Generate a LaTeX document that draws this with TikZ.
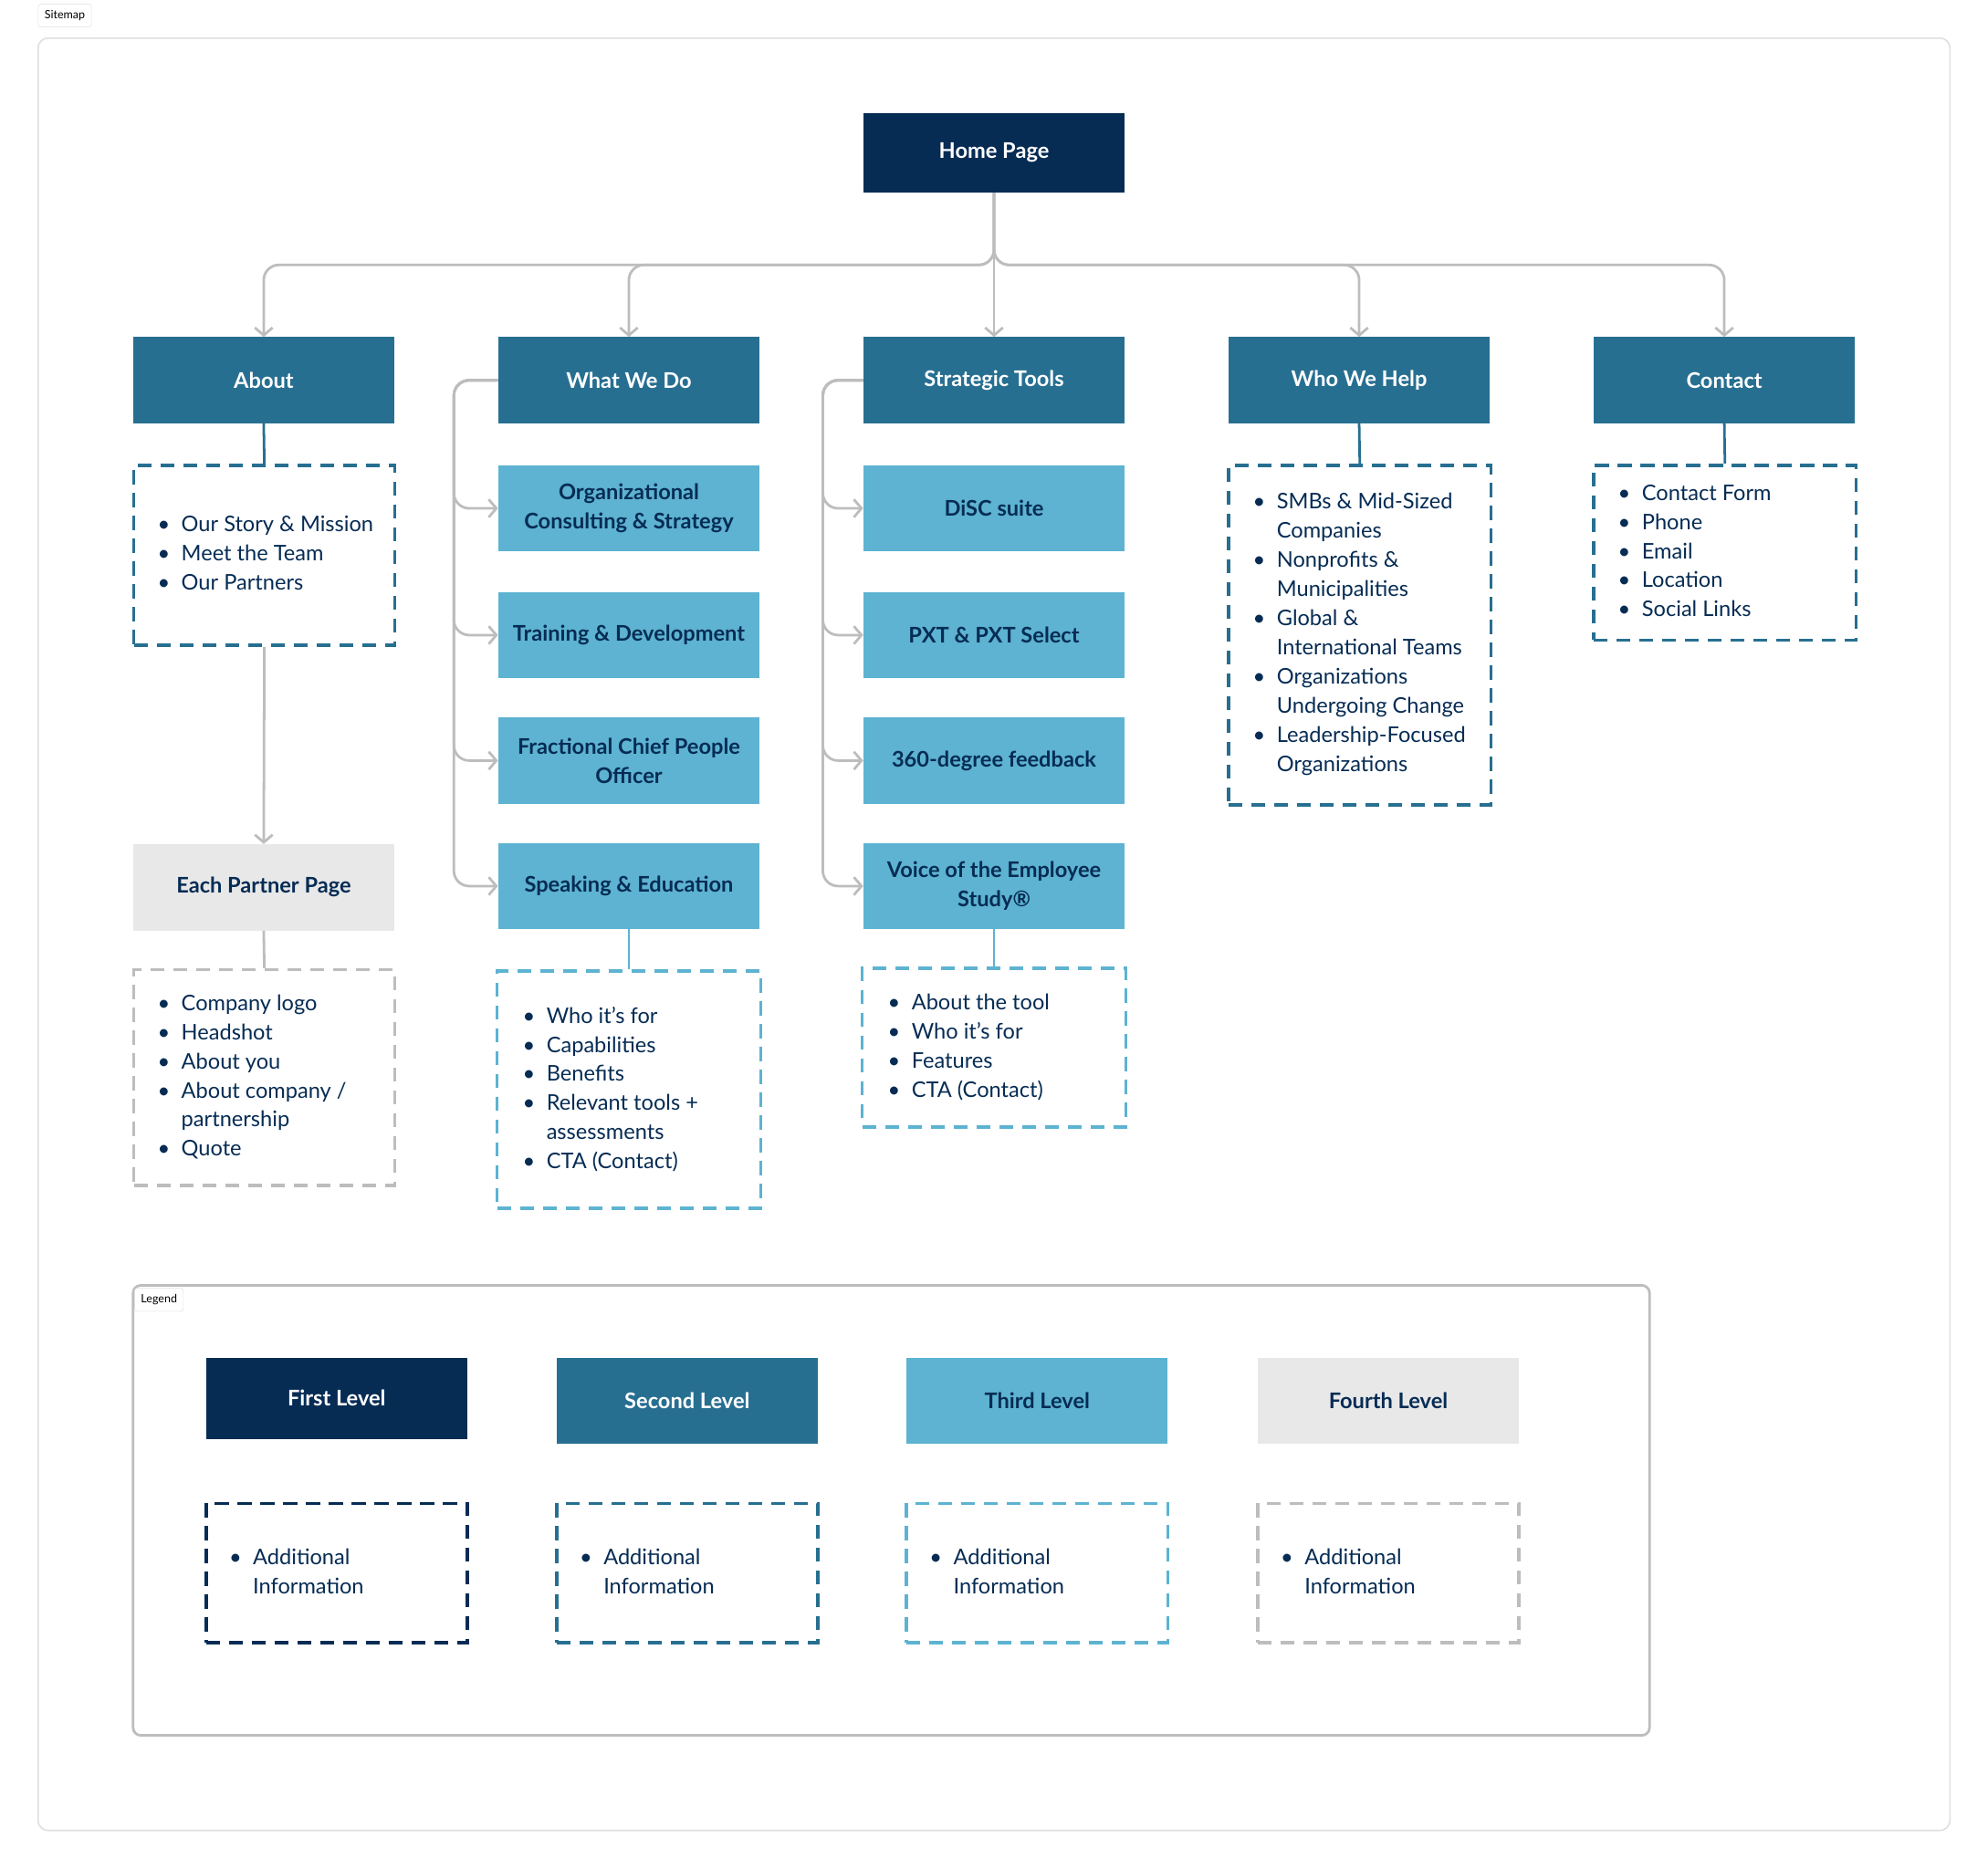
\documentclass[tikz,border=0pt]{standalone}
\usepackage{fontspec}
\setmainfont{Lato}
\usetikzlibrary{arrows.meta}
\definecolor{cA}{HTML}{062C54}
\definecolor{cB}{HTML}{276F91}
\definecolor{cC}{HTML}{5DB3D1}
\definecolor{cD}{HTML}{E8E8E9}
\definecolor{gl}{HTML}{BDBDBD}
\definecolor{fr}{HTML}{E0E0E0}
\newcommand\bul{\textbullet}
\begin{document}
\begin{tikzpicture}[x=1pt,y=-1pt,
 box/.style={minimum width=206pt,minimum height=68pt,inner sep=2pt,align=center,font=\fontsize{17}{23}\selectfont\bfseries},
 l1/.style={box,fill=cA,text=white},
 l2/.style={box,fill=cB,text=white},
 l3/.style={box,fill=cC,text=cA},
 l4/.style={box,fill=cD,text=cA},
 dbox/.style={draw=#1,line width=2.6pt,dash pattern=on 11pt off 7pt,minimum width=206pt,inner sep=0pt},
 txt/.style={anchor=west,inner sep=0pt,font=\fontsize{17}{23}\selectfont,text=cA,align=left},
 conn/.style={draw=gl,line width=2pt,rounded corners=12pt,-{Straight Barb[length=6pt,width=14pt]}},
 link/.style={draw=#1,line width=2pt},
 tag/.style={draw=fr,rounded corners=2pt,font=\fontsize{9}{10}\selectfont,inner sep=5pt,fill=white}]
\useasboundingbox (0,0) rectangle (1568,1474);
\fill[white] (0,0) rectangle (1568,1474);
\draw[fr,line width=1.2pt,rounded corners=8pt] (30,30) rectangle (1538,1444);
\node[tag,anchor=north west] (sm) at (30,3) {Sitemap};

\node[l1,minimum height=63pt] (home) at (784,120.5) {Home Page};
\node[l2] (about) at (208,300) {About};
\node[l2] (wwd) at (496,300) {What We Do};
\node[l2] (st) at (784,300) {Strategic Tools};
\node[l2] (wwh) at (1072,300) {Who We Help};
\node[l2] (contact) at (1360,300) {Contact};

\foreach \n in {about,wwd,st,wwh,contact}{
  \draw[conn] (home.south) -- (784,209) -| (\n.north);}

\node[l3] (w1) at (496,401) {Organizational\\Consulting \& Strategy};
\node[l3] (w2) at (496,501) {Training \& Development};
\node[l3] (w3) at (496,600) {Fractional Chief People\\Officer};
\node[l3] (w4) at (496,699) {Speaking \& Education};
\node[l3] (s1) at (784,401) {DiSC suite};
\node[l3] (s2) at (784,501) {PXT \& PXT Select};
\node[l3] (s3) at (784,600) {360-degree feedback};
\node[l3] (s4) at (784,699) {Voice of the Employee\\Study®};
\foreach \c in {w1,w2,w3,w4}{\draw[conn] (wwd.west) -- (358,300) |- (\c.west);}
\foreach \c in {s1,s2,s3,s4}{\draw[conn] (st.west) -- (649,300) |- (\c.west);}

% About
\node[dbox=cB,minimum height=142pt] (ad) at (208.5,438) {};
\draw[link=cB] (about.south) -- (ad.north);
\node[txt] (adt) at (124,438) {\begin{tabular}{@{}l@{\hspace{9pt}}l@{}}\bul&Our Story \& Mission\\\bul&Meet the Team\\\bul&Our Partners\end{tabular}};
\node[l4] (pp) at (208,700) {Each Partner Page};
\draw[conn] (ad.south) -- (pp.north);
\node[dbox=gl,minimum height=170pt] (pd) at (208.5,850) {};
\draw[link=gl] (pp.south) -- (pd.north);
\node[txt] (pdt) at (124,850) {\begin{tabular}{@{}l@{\hspace{9pt}}l@{}}\bul&Company logo\\\bul&Headshot\\\bul&About you\\\bul&About company /\\&partnership\\\bul&Quote\end{tabular}};

% WWD details
\node[dbox=cC,minimum width=208pt,minimum height=187pt] (wd) at (496,859.5) {};
\draw[link=cC] (w4.south) -- (wd.north);
\node[txt] (wdt) at (412,860) {\begin{tabular}{@{}l@{\hspace{9pt}}l@{}}\bul&Who it’s for\\\bul&Capabilities\\\bul&Benefits\\\bul&Relevant tools +\\&assessments\\\bul&CTA (Contact)\end{tabular}};

% ST details
\node[dbox=cC,minimum width=208pt,minimum height=125pt] (sd) at (784,826.5) {};
\draw[link=cC] (s4.south) -- (sd.north);
\node[txt] (sdt) at (700,826.5) {\begin{tabular}{@{}l@{\hspace{9pt}}l@{}}\bul&About the tool\\\bul&Who it’s for\\\bul&Features\\\bul&CTA (Contact)\end{tabular}};

% WWH details
\node[dbox=cB,minimum width=207pt,minimum height=268pt] (hd) at (1072.5,501) {};
\draw[link=cB] (wwh.south) -- (hd.north);
\node[txt] (hdt) at (988,500.5) {\begin{tabular}{@{}l@{\hspace{9pt}}l@{}}\bul&SMBs \& Mid-Sized\\&Companies\\\bul&Nonprofits \&\\&Municipalities\\\bul&Global \&\\&International Teams\\\bul&Organizations\\&Undergoing Change\\\bul&Leadership-Focused\\&Organizations\end{tabular}};

% Contact details
\node[dbox=cB,minimum width=207pt,minimum height=138pt] (cd) at (1360.5,436) {};
\draw[link=cB] (contact.south) -- (cd.north);
\node[txt] (cdt) at (1276,436) {\begin{tabular}{@{}l@{\hspace{9pt}}l@{}}\bul&Contact Form\\\bul&Phone\\\bul&Email\\\bul&Location\\\bul&Social Links\end{tabular}};

% Legend
\draw[gl,line width=2pt,rounded corners=6pt] (105,1014) rectangle (1301,1369);
\node[tag,anchor=north west] (lg) at (106,1016) {Legend};
\node[l1,minimum height=64pt] (g1) at (265.5,1103) {First Level};
\node[l2] (g2) at (542,1105) {Second Level};
\node[l3] (g3) at (818,1105) {Third Level};
\node[l4] (g4) at (1095,1105) {Fourth Level};
\foreach \x/\c/\n in {265.5/cA/d1,542/cB/d2,818/cC/d3,1095/gl/d4}{
  \node[dbox=\c,minimum height=110pt] (\n) at (\x,1241) {};
  \node[txt] at (\x-85,1241) {\begin{tabular}{@{}l@{\hspace{9pt}}l@{}}\bul&Additional\\&Information\end{tabular}};}
\end{tikzpicture}
\end{document}
